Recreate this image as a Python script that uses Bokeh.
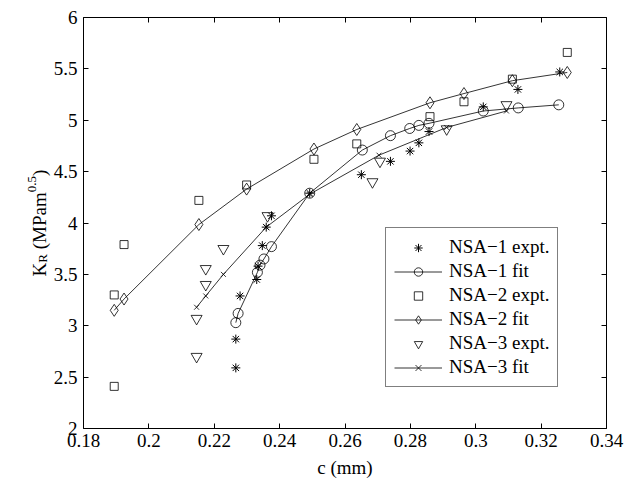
import math
from bokeh.plotting import figure
from bokeh.models import Range1d, LinearAxis, FixedTicker, Legend, LegendItem, Label
from bokeh.embed import file_html
from bokeh.resources import INLINE

# ---- data ----
nsa1_expt_c = [0.2266, 0.2266, 0.2279, 0.2330, 0.2334, 0.2347, 0.2359, 0.2375, 0.2492,
               0.2650, 0.2739, 0.2799, 0.2826, 0.2857, 0.3023, 0.3129, 0.3257]
nsa1_expt_k = [2.59, 2.87, 3.29, 3.45, 3.58, 3.78, 3.96, 4.07, 4.29,
               4.47, 4.60, 4.70, 4.78, 4.89, 5.13, 5.30, 5.47]

nsa1_fit_c = [0.2266, 0.2273, 0.2332, 0.2340, 0.2352, 0.2375, 0.2492, 0.2653,
              0.2739, 0.2798, 0.2826, 0.2857, 0.3023, 0.3130, 0.3254]
nsa1_fit_k = [3.03, 3.12, 3.52, 3.59, 3.65, 3.77, 4.29, 4.71,
              4.85, 4.92, 4.95, 4.97, 5.09, 5.12, 5.15]

nsa2_expt_c = [0.1894, 0.1894, 0.1924, 0.2153, 0.2299, 0.2505, 0.2636, 0.2860, 0.2964, 0.3112, 0.3280]
nsa2_expt_k = [2.41, 3.30, 3.79, 4.22, 4.37, 4.62, 4.77, 5.035, 5.18, 5.40, 5.66]

nsa2_fit_c = [0.1894, 0.1924, 0.2153, 0.2299, 0.2505, 0.2636, 0.2860, 0.2964, 0.3112, 0.3280]
nsa2_fit_k = [3.15, 3.26, 3.985, 4.33, 4.72, 4.91, 5.17, 5.26, 5.385, 5.465]

nsa3_expt_c = [0.2146, 0.2146, 0.2174, 0.2174, 0.2228, 0.2363, 0.2684, 0.2707, 0.2911, 0.3094]
nsa3_expt_k = [2.70, 3.07, 3.40, 3.555, 3.75, 4.07, 4.40, 4.60, 4.915, 5.15]

nsa3_fit_c = [0.2146, 0.2174, 0.2228, 0.2359, 0.2492, 0.2704, 0.2911, 0.3094]
nsa3_fit_k = [3.18, 3.29, 3.50, 3.96, 4.28, 4.66, 4.93, 5.09]

series_labels = ["NSA\u22121 expt.", "NSA\u22121 fit", "NSA\u22122 expt.",
                 "NSA\u22122 fit", "NSA\u22123 expt.", "NSA\u22123 fit"]
x_title = "c (mm)"

x_ticks = [0.18, 0.2, 0.22, 0.24, 0.26, 0.28, 0.3, 0.32, 0.34]
x_tick_labels = ["0.18", "0.2", "0.22", "0.24", "0.26", "0.28", "0.3", "0.32", "0.34"]
y_ticks = [2, 2.5, 3, 3.5, 4, 4.5, 5, 5.5, 6]
y_tick_labels = ["2", "2.5", "3", "3.5", "4", "4.5", "5", "5.5", "6"]

FONT = "Liberation Serif, Times New Roman, Times, serif"
FS = "19px"

# ---- layout in pixels: the frame covers the whole canvas, the box is drawn by fixed axes ----
W, H = 624, 482
BOX_L, BOX_R, BOX_T, BOX_B = 83, 606, 17, 428
X0, X1 = x_ticks[0], x_ticks[-1]
Y0, Y1 = y_ticks[0], y_ticks[-1]
kx = (X1 - X0) / (BOX_R - BOX_L)
ky = (Y1 - Y0) / (BOX_B - BOX_T)
x_range = Range1d(X0 - BOX_L * kx, X1 + (W - BOX_R) * kx)
y_range = Range1d(Y0 - (H - BOX_B) * ky, Y1 + BOX_T * ky)

p = figure(width=W, height=H, x_range=x_range, y_range=y_range,
           output_backend="svg", toolbar_location=None,
           x_axis_location=None, y_axis_location=None,
           min_border=0, min_border_left=0, min_border_right=0,
           min_border_top=0, min_border_bottom=0)
p.grid.visible = False
p.outline_line_color = None
p.background_fill_color = "white"
p.border_fill_color = "white"

bottom_axis = LinearAxis(fixed_location=Y0, bounds=(X0, X1))
top_axis = LinearAxis(fixed_location=Y1, bounds=(X0, X1))
left_axis = LinearAxis(fixed_location=X0, bounds=(Y0, Y1))
right_axis = LinearAxis(fixed_location=X1, bounds=(Y0, Y1))
p.add_layout(bottom_axis, "below")
p.add_layout(top_axis, "above")
p.add_layout(left_axis, "left")
p.add_layout(right_axis, "right")


def style_axis(ax, ticks, labels, show, standoff):
    ax.ticker = FixedTicker(ticks=ticks)
    ax.major_label_overrides = dict(zip(ticks, labels))
    ax.minor_tick_line_color = None
    ax.major_tick_in = 5
    ax.major_tick_out = 0
    ax.axis_line_color = "black"
    ax.axis_line_width = 1
    ax.major_tick_line_color = "black"
    ax.major_label_text_font = FONT
    if show:
        ax.major_label_text_color = "black"
        ax.major_label_text_font_size = FS
        ax.major_label_standoff = standoff
    else:
        ax.major_label_text_color = None
        ax.major_label_text_font_size = "1px"
        ax.major_label_standoff = 0


style_axis(bottom_axis, x_ticks, x_tick_labels, True, 5)
style_axis(left_axis, y_ticks, y_tick_labels, True, 6)
style_axis(top_axis, x_ticks, x_tick_labels, False, 0)
style_axis(right_axis, y_ticks, y_tick_labels, False, 0)

LW = 0.8
r1e = p.scatter(nsa1_expt_c, nsa1_expt_k, marker="asterisk", size=9, line_color="black", line_width=1)
l1 = p.line(nsa1_fit_c, nsa1_fit_k, line_color="black", line_width=LW)
r1f = p.scatter(nsa1_fit_c, nsa1_fit_k, marker="circle", size=10, fill_color=None, line_color="black", line_width=LW)

r2e = p.scatter(nsa2_expt_c, nsa2_expt_k, marker="square", size=8, fill_color=None, line_color="black", line_width=LW)
l2 = p.line(nsa2_fit_c, nsa2_fit_k, line_color="black", line_width=LW)
r2f = p.scatter(nsa2_fit_c, nsa2_fit_k, marker="diamond", size=12, fill_color=None, line_color="black", line_width=LW)

r3e = p.scatter(nsa3_expt_c, nsa3_expt_k, marker="inverted_triangle", size=11, fill_color=None, line_color="black", line_width=LW)
l3 = p.line(nsa3_fit_c, nsa3_fit_k, line_color="black", line_width=LW)
r3f = p.scatter(nsa3_fit_c, nsa3_fit_k, marker="x", size=7, line_color="black", line_width=LW)

legend = Legend(items=[
    LegendItem(label=series_labels[0], renderers=[r1e]),
    LegendItem(label=series_labels[1], renderers=[l1, r1f]),
    LegendItem(label=series_labels[2], renderers=[r2e]),
    LegendItem(label=series_labels[3], renderers=[l2, r2f]),
    LegendItem(label=series_labels[4], renderers=[r3e]),
    LegendItem(label=series_labels[5], renderers=[l3, r3f]),
], location=(385, H - 387), glyph_width=48, glyph_height=21, label_height=21, spacing=2,
    padding=8, label_standoff=7, border_line_color="black", border_line_width=1.2,
    background_fill_color="white", background_fill_alpha=1,
    label_text_font=FONT, label_text_font_size=FS, label_text_color="black")
p.add_layout(legend)

# ---- x-axis title, centred under the box ----
p.add_layout(Label(x=(X0 + X1) / 2, y=Y0, x_units="data", y_units="data", y_offset=-39,
                   text=x_title, text_font=FONT, text_font_size=FS, text_color="black",
                   text_align="center", text_baseline="middle"))

# ---- y-axis title K_R (MPam^0.5), rotated pieces left of the box ----
y_mid = (Y0 + Y1) / 2
pieces = [
    ("K", "19px", -44, -53.4),
    ("R", "13px", -41, -39.7),
    ("(MPam", "19px", -44, -26.3),
    ("0.5", "13px", -52, 30.7),
    (")", "19px", -44, 47.0),
]
for txt, fs, xo, yo in pieces:
    p.add_layout(Label(x=X0, y=y_mid, x_units="data", y_units="data", x_offset=xo, y_offset=yo,
                       angle=math.pi / 2, text=txt, text_font=FONT, text_font_size=fs,
                       text_color="black", text_align="left", text_baseline="alphabetic"))

open("out.html", "w").write(file_html(p, INLINE))
